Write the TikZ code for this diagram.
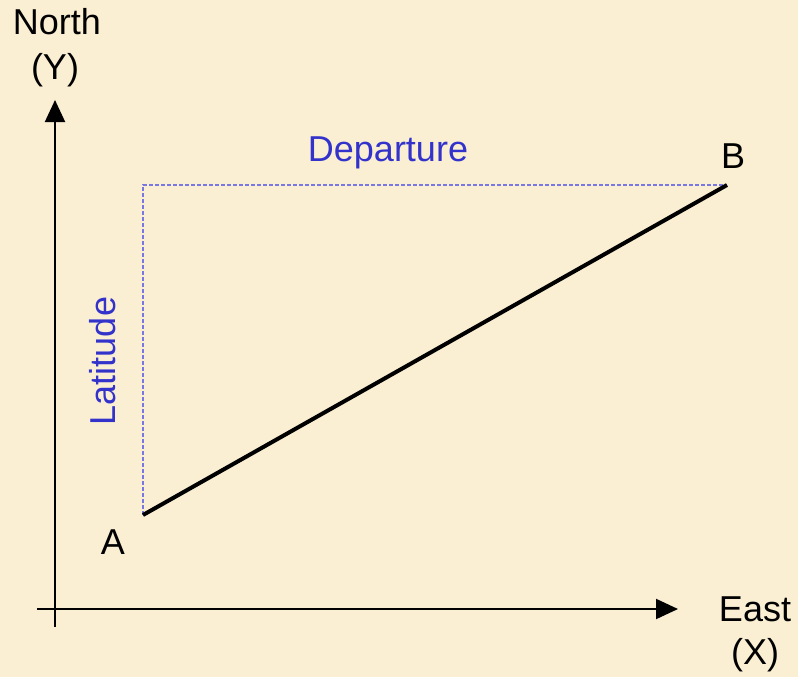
\documentclass[tikz,border=0pt]{standalone}
\usepackage{fontspec}
\setmainfont{Liberation Sans}
\usetikzlibrary{arrows.meta,positioning}
\definecolor{parch}{RGB}{250,238,211}
\definecolor{lblblue}{RGB}{51,51,204}
\definecolor{dashblue}{RGB}{120,120,224}

\begin{document}
\begin{tikzpicture}[
    x=1pt, y=-1pt,
    axis/.style={-{Triangle[length=22pt, width=20pt]}, line width=2pt},
    course/.style={line width=4pt},
    comp/.style={draw=dashblue, line width=1.2pt, dash pattern=on 4pt off 2pt},
    lbl/.style={font=\fontsize{36}{40}\selectfont, inner sep=0pt, align=center},
    blbl/.style={lbl, text=lblblue}
]
% Frame
\fill[parch] (0,0) rectangle (798,677);
\useasboundingbox (0,0) rectangle (798,677);
% Axes
\coordinate (ybot) at (55, 627);
\coordinate (ytop) at (55, 100);
\coordinate (xlft) at (37, 609);
\coordinate (xrgt) at (678, 609);
\draw[axis] (ybot) -- (ytop);
\draw[axis] (xlft) -- (xrgt);
\node[lbl] (north) at (57, 22) {North};
\node[lbl] (ylbl)  at (55, 70) {(Y)};
\node[lbl] (east)  at (755, 609) {East};
\node[lbl] (xlbl)  at (755, 655) {(X)};
% Points
\coordinate (ptA) at (143, 515);
\coordinate (ptB) at (727, 185);
\coordinate (crn) at (143, 185);
\node[lbl] (labA) at (113, 542) {A};
\node[lbl] (labB) at (733, 156) {B};
% Latitude / departure
\draw[comp] (ptA) -- (crn) -- (ptB);
\node[blbl, rotate=90] (lat) at (103, 361) {Latitude};
\node[blbl] (dep) at (388, 153) {Departure};
% Course line
\draw[course] (ptA) -- (ptB);
\end{tikzpicture}
\end{document}
